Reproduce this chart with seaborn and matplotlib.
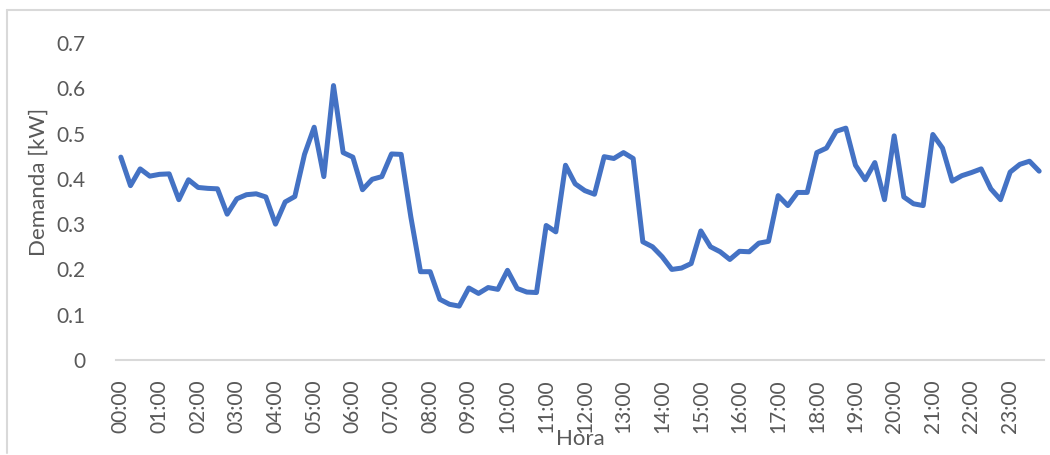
import matplotlib
matplotlib.use("Agg")
import matplotlib.pyplot as plt
from matplotlib.lines import Line2D
import seaborn as sns
import pandas as pd

# 15-minute demand values (kW), 00:00 .. 23:45
demand = [
    0.448, 0.385, 0.422, 0.406, 0.410, 0.411, 0.354, 0.398,
    0.381, 0.379, 0.378, 0.322, 0.356, 0.365, 0.367, 0.360,
    0.300, 0.349, 0.361, 0.454, 0.514, 0.405, 0.606, 0.458,
    0.448, 0.376, 0.399, 0.405, 0.455, 0.454, 0.316, 0.195,
    0.195, 0.134, 0.123, 0.119, 0.159, 0.147, 0.160, 0.156,
    0.198, 0.158, 0.150, 0.149, 0.297, 0.283, 0.430, 0.389,
    0.374, 0.366, 0.449, 0.445, 0.458, 0.445, 0.261, 0.250,
    0.228, 0.200, 0.203, 0.213, 0.285, 0.250, 0.239, 0.222,
    0.240, 0.239, 0.258, 0.262, 0.363, 0.341, 0.370, 0.370,
    0.458, 0.468, 0.505, 0.512, 0.430, 0.398, 0.436, 0.354,
    0.495, 0.360, 0.345, 0.341, 0.498, 0.468, 0.395, 0.407,
    0.414, 0.422, 0.378, 0.354, 0.415, 0.432, 0.439, 0.417,
]
hour_labels = [
    "00:00", "01:00", "02:00", "03:00", "04:00", "05:00", "06:00", "07:00",
    "08:00", "09:00", "10:00", "11:00", "12:00", "13:00", "14:00", "15:00",
    "16:00", "17:00", "18:00", "19:00", "20:00", "21:00", "22:00", "23:00",
]
y_ticks = [0, 0.1, 0.2, 0.3, 0.4, 0.5, 0.6, 0.7]
y_tick_labels = ["0", "0.1", "0.2", "0.3", "0.4", "0.5", "0.6", "0.7"]
x_title = "Hora"
y_title = "Demanda [kW]"

sns.set_style("white")
plt.rcParams["font.family"] = ["Lato", "DejaVu Sans"]

df = pd.DataFrame({"slot": range(len(demand)), "demand": demand})

W, H = 1050, 455
fig = plt.figure(figsize=(W / 100, H / 100), dpi=100)
ax = fig.add_axes([116 / W, 1 - 360 / H, (1044 - 116) / W, (360 - 43) / H])

sns.lineplot(data=df, x="slot", y="demand", ax=ax, color="#4472C4",
             linewidth=3.6, solid_joinstyle="round", solid_capstyle="round")

ax.set_xlim(-0.5, len(demand) - 0.5)
ax.set_ylim(0, 0.7)

grey = "#595959"
ax.set_xticks(range(0, len(demand), 4))
ax.set_xticklabels(hour_labels, rotation=90, fontsize=15, color=grey)
ax.set_yticks(y_ticks)
ax.set_yticklabels(y_tick_labels, fontsize=15, color=grey)
ax.tick_params(axis="x", length=0, pad=14)
ax.tick_params(axis="y", length=0, pad=22)

for s in ["top", "right", "left"]:
    ax.spines[s].set_visible(False)
ax.spines["bottom"].set_color("#D9D9D9")
ax.spines["bottom"].set_linewidth(1.5)

ax.set_xlabel("")
ax.set_ylabel("")
fig.text(580 / W, 1 - 439 / H, x_title, fontsize=16, color=grey,
         ha="center", va="center")
fig.text(39 / W, 1 - 182 / H, y_title, fontsize=16, color=grey,
         ha="center", va="center", rotation=90)

# outer chart border (partially visible: top and left)
fig.add_artist(Line2D([7 / W, 7 / W], [1 - 453 / H, 1 - 10 / H],
                      transform=fig.transFigure, color="#D9D9D9", linewidth=1.5))
fig.add_artist(Line2D([7 / W, 1.0], [1 - 10 / H, 1 - 10 / H],
                      transform=fig.transFigure, color="#D9D9D9", linewidth=1.5))

fig.savefig("out.png", dpi=100)
